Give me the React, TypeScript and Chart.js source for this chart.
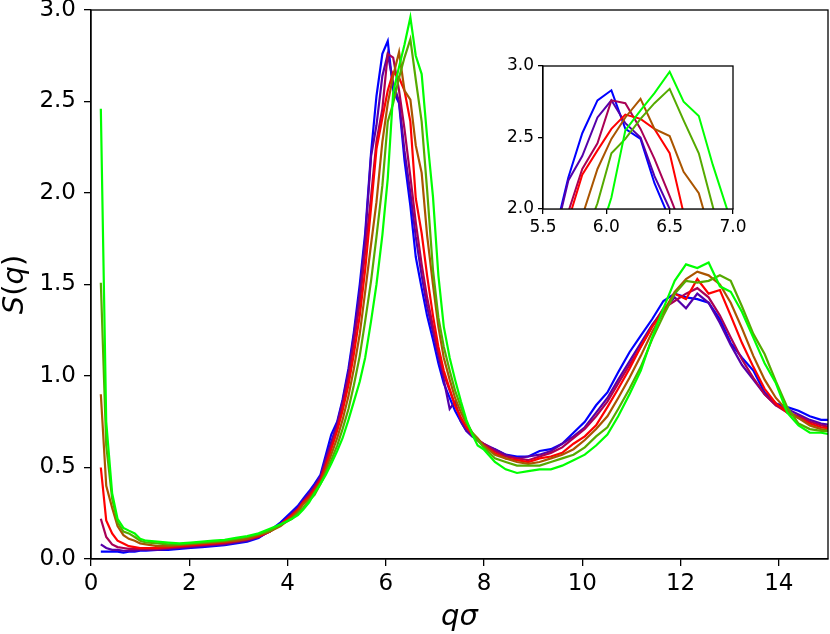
import React, { useEffect, useRef } from 'react';
import { Chart, registerables } from 'chart.js';

Chart.register(...registerables);

// q sigma grid
const q = [
  0.20, 0.31, 0.43, 0.54, 0.66, 0.77, 0.89, 1.00, 1.12,
  1.35, 1.57, 1.80, 2.03, 2.26, 2.49, 2.72, 2.95, 3.18, 3.41, 3.64, 3.86, 4.09,
  4.21, 4.32, 4.44,
  4.55, 4.67, 4.78, 4.89, 5.01, 5.12, 5.24, 5.35, 5.47, 5.58, 5.70, 5.81, 5.93, 6.04, 6.15, 6.27, 6.38, 6.50, 6.61, 6.73, 6.84, 6.96, 7.07, 7.18, 7.30, 7.41, 7.53, 7.64, 7.76, 7.87, 7.99,
  8.22, 8.44, 8.67, 8.90, 9.13, 9.36, 9.59, 9.82, 10.05, 10.28, 10.51, 10.73, 10.96, 11.19, 11.42, 11.65, 11.88, 12.11, 12.34, 12.57, 12.80, 13.02, 13.25, 13.48, 13.71, 13.94, 14.17, 14.40, 14.63, 14.86, 15.09,
];

const sBlue = [
  0.04, 0.04, 0.04, 0.04, 0.035, 0.04, 0.04, 0.045, 0.045,
  0.05, 0.05, 0.055, 0.06, 0.065, 0.07, 0.075, 0.085, 0.095, 0.115, 0.155, 0.20, 0.26,
  0.29, 0.33, 0.37,
  0.41, 0.46, 0.57, 0.68, 0.75, 0.87, 1.04, 1.24, 1.50, 1.78, 2.22, 2.53, 2.76, 2.83, 2.56, 2.49, 2.18, 1.93, 1.65, 1.48, 1.33, 1.20, 1.07, 0.96, 0.88, 0.81, 0.75, 0.70, 0.67, 0.65, 0.62,
  0.60, 0.57, 0.56, 0.56, 0.59, 0.60, 0.63, 0.69, 0.75, 0.84, 0.91, 1.02, 1.13, 1.22, 1.31, 1.41, 1.45, 1.43, 1.42, 1.40, 1.31, 1.18, 1.10, 1.03, 0.91, 0.85, 0.83, 0.81, 0.78, 0.76, 0.76,
];

const sPurple = [
  0.08, 0.06, 0.05, 0.05, 0.045, 0.045, 0.045, 0.05, 0.05,
  0.05, 0.055, 0.06, 0.065, 0.07, 0.075, 0.08, 0.09, 0.10, 0.12, 0.15, 0.19, 0.25,
  0.28, 0.32, 0.36,
  0.40, 0.45, 0.55, 0.64, 0.74, 0.86, 1.02, 1.22, 1.46, 1.75, 2.20, 2.37, 2.64, 2.76, 2.60, 2.50, 2.23, 2.00, 1.76, 1.55, 1.38, 1.24, 1.11, 0.98, 0.82, 0.86, 0.75, 0.70, 0.67, 0.65, 0.63,
  0.60, 0.57, 0.55, 0.56, 0.57, 0.59, 0.63, 0.67, 0.72, 0.80, 0.88, 0.98, 1.08, 1.18, 1.28, 1.36, 1.43, 1.37, 1.45, 1.40, 1.29, 1.17, 1.06, 0.98, 0.90, 0.84, 0.82, 0.79, 0.76, 0.74, 0.73,
];

const sMagenta = [
  0.22, 0.12, 0.08, 0.065, 0.06, 0.055, 0.055, 0.055, 0.055,
  0.055, 0.06, 0.065, 0.07, 0.075, 0.08, 0.085, 0.095, 0.105, 0.12, 0.15, 0.19, 0.24,
  0.27, 0.31, 0.35,
  0.39, 0.44, 0.53, 0.62, 0.72, 0.84, 0.99, 1.18, 1.40, 1.68, 1.98, 2.28, 2.46, 2.76, 2.74, 2.56, 2.35, 2.09, 1.84, 1.61, 1.43, 1.27, 1.13, 1.01, 0.92, 0.84, 0.77, 0.72, 0.68, 0.65, 0.63,
  0.59, 0.56, 0.55, 0.54, 0.56, 0.58, 0.61, 0.66, 0.71, 0.78, 0.86, 0.96, 1.06, 1.16, 1.27, 1.37, 1.41, 1.45, 1.48, 1.43, 1.33, 1.21, 1.09, 0.99, 0.90, 0.84, 0.80, 0.78, 0.75, 0.73, 0.72,
];

const sRed = [
  0.50, 0.21, 0.14, 0.10, 0.085, 0.07, 0.065, 0.06, 0.06,
  0.06, 0.065, 0.07, 0.075, 0.08, 0.085, 0.09, 0.10, 0.11, 0.125, 0.15, 0.19, 0.24,
  0.27, 0.31, 0.34,
  0.38, 0.43, 0.51, 0.60, 0.70, 0.81, 0.95, 1.12, 1.33, 1.58, 1.92, 2.24, 2.41, 2.56, 2.66, 2.63, 2.56, 2.39, 1.97, 1.78, 1.55, 1.33, 1.16, 1.03, 0.93, 0.84, 0.77, 0.72, 0.68, 0.65, 0.62,
  0.58, 0.55, 0.54, 0.53, 0.55, 0.56, 0.58, 0.63, 0.67, 0.73, 0.83, 0.93, 1.04, 1.16, 1.27, 1.35, 1.45, 1.42, 1.53, 1.45, 1.47, 1.33, 1.18, 1.05, 0.93, 0.85, 0.80, 0.77, 0.74, 0.72, 0.71,
];

const sBrown = [
  0.90, 0.40, 0.28, 0.18, 0.13, 0.11, 0.10, 0.085, 0.08,
  0.07, 0.07, 0.075, 0.08, 0.085, 0.09, 0.095, 0.10, 0.11, 0.13, 0.15, 0.18, 0.23,
  0.26, 0.30, 0.33,
  0.37, 0.42, 0.49, 0.57, 0.66, 0.76, 0.89, 1.04, 1.23, 1.46, 1.72, 1.95, 2.28, 2.49, 2.64, 2.77, 2.56, 2.51, 2.26, 2.11, 1.77, 1.50, 1.27, 1.10, 0.98, 0.88, 0.80, 0.74, 0.69, 0.66, 0.62,
  0.57, 0.55, 0.53, 0.52, 0.53, 0.55, 0.57, 0.60, 0.65, 0.71, 0.78, 0.88, 0.99, 1.11, 1.24, 1.35, 1.46, 1.53, 1.57, 1.55, 1.50, 1.40, 1.26, 1.11, 0.98, 0.88, 0.81, 0.77, 0.73, 0.71, 0.70,
];

const sOlive = [
  1.51, 0.62, 0.33, 0.20, 0.15, 0.14, 0.12, 0.10, 0.09,
  0.085, 0.08, 0.08, 0.085, 0.09, 0.095, 0.10, 0.11, 0.12, 0.135, 0.155, 0.185, 0.22,
  0.25, 0.28, 0.32,
  0.35, 0.41, 0.47, 0.54, 0.62, 0.71, 0.82, 0.95, 1.11, 1.30, 1.52, 1.76, 2.04, 2.39, 2.49, 2.63, 2.74, 2.84, 2.62, 2.39, 2.02, 1.58, 1.32, 1.16, 1.03, 0.92, 0.83, 0.75, 0.69, 0.65, 0.61,
  0.55, 0.53, 0.51, 0.51, 0.51, 0.53, 0.55, 0.57, 0.61, 0.67, 0.72, 0.82, 0.93, 1.05, 1.20, 1.33, 1.45, 1.52, 1.51, 1.52, 1.55, 1.52, 1.38, 1.23, 1.12, 0.97, 0.83, 0.74, 0.71, 0.70, 0.70,
];

const sGreen = [
  2.46, 0.75, 0.36, 0.22, 0.17, 0.155, 0.14, 0.11, 0.10,
  0.095, 0.09, 0.085, 0.09, 0.095, 0.10, 0.105, 0.115, 0.125, 0.14, 0.165, 0.19, 0.22,
  0.24, 0.27, 0.31,
  0.36, 0.41, 0.46, 0.52, 0.59, 0.66, 0.76, 0.86, 0.97, 1.10, 1.30, 1.50, 1.77, 2.08, 2.55, 2.69, 2.81, 2.96, 2.75, 2.65, 2.31, 1.98, 1.55, 1.27, 1.10, 0.98, 0.86, 0.76, 0.68, 0.62, 0.60,
  0.53, 0.49, 0.47, 0.48, 0.49, 0.49, 0.51, 0.54, 0.57, 0.62, 0.68, 0.78, 0.90, 1.03, 1.21, 1.37, 1.52, 1.61, 1.59, 1.62, 1.49, 1.46, 1.35, 1.21, 1.07, 0.96, 0.80, 0.73, 0.69, 0.69, 0.68,
];

const seriesValues = [sBlue, sPurple, sMagenta, sRed, sBrown, sOlive, sGreen];
const seriesColors = ['#0000ff', '#5500aa', '#aa0055', '#ff0000', '#aa5500', '#55aa00', '#00ff00'];

const xTicks = [0, 2, 4, 6, 8, 10, 12, 14];
const yTicks = [0, 0.5, 1.0, 1.5, 2.0, 2.5, 3.0];
const insetXTicks = [5.5, 6.0, 6.5, 7.0];
const insetYTicks = [2.0, 2.5, 3.0];

const FONT = 'DejaVu Sans';

function makeDatasets(width: number) {
  return seriesValues.map((s, i) => ({
    data: q.map((x, j) => ({ x, y: s[j] })),
    borderColor: seriesColors[i],
    backgroundColor: seriesColors[i],
    borderWidth: width,
    pointRadius: 0,
    fill: false,
    tension: 0,
    order: seriesValues.length - i,
  }));
}

const framePlugin = {
  id: 'frame',
  beforeDatasetsDraw(chart: any, _a: any, opts: any) {
    if (opts && opts.fill) {
      const { ctx, chartArea: a } = chart;
      ctx.save();
      ctx.fillStyle = '#ffffff';
      ctx.fillRect(a.left, a.top, a.right - a.left, a.bottom - a.top);
      ctx.restore();
    }
  },
  afterDraw(chart: any) {
    const { ctx, chartArea: a } = chart;
    ctx.save();
    ctx.strokeStyle = '#000000';
    ctx.lineWidth = 1.3;
    ctx.strokeRect(a.left, a.top, a.right - a.left, a.bottom - a.top);
    ctx.restore();
  },
};

const labelPlugin = {
  id: 'axisLabels',
  afterDraw(chart: any) {
    const { ctx, chartArea: a } = chart;
    ctx.save();
    ctx.fillStyle = '#000000';
    ctx.textBaseline = 'alphabetic';
    // x label: q sigma
    ctx.font = `italic 29px "${FONT}"`;
    ctx.textAlign = 'center';
    ctx.fillText('qσ', (a.left + a.right) / 2, 625);
    // y label: S(q)
    const parts: [string, boolean][] = [['S', true], ['(', false], ['q', true], [')', false]];
    const fontFor = (it: boolean) => `${it ? 'italic ' : ''}29px "${FONT}"`;
    let total = 0;
    const widths = parts.map(([t, it]) => {
      ctx.font = fontFor(it);
      const w = ctx.measureText(t).width;
      total += w;
      return w;
    });
    ctx.translate(23, (a.top + a.bottom) / 2);
    ctx.rotate(-Math.PI / 2);
    ctx.textAlign = 'left';
    let x = -total / 2;
    parts.forEach(([t, it], i) => {
      ctx.font = fontFor(it);
      ctx.fillText(t, x, 0);
      x += widths[i];
    });
    ctx.restore();
  },
};

function axisOptions(
  ticksArr: number[],
  min: number,
  max: number,
  fontSize: number,
  fmt: (v: number) => string,
  tickLength: number,
  padding: number,
  horizontal: boolean,
  size: number
) {
  return {
    type: 'linear' as const,
    min,
    max,
    afterBuildTicks: (s: any) => {
      s.ticks = ticksArr.map((v) => ({ value: v }));
    },
    afterFit: (s: any) => {
      if (horizontal) {
        s.height = size;
        s.paddingLeft = 0;
        s.paddingRight = 0;
      } else {
        s.width = size;
        s.paddingTop = 0;
        s.paddingBottom = 0;
      }
    },
    ticks: {
      font: { family: FONT, size: fontSize },
      color: '#000000',
      padding,
      maxRotation: 0,
      autoSkip: false,
      callback: (v: any) => fmt(Number(v)),
    },
    grid: {
      drawOnChartArea: false,
      drawTicks: true,
      tickLength,
      color: '#000000',
      lineWidth: 1.3,
    },
    border: { display: true, color: '#000000', width: 1.3 },
  };
}

export default function App() {
  const mainRef = useRef<HTMLCanvasElement | null>(null);
  const insetRef = useRef<HTMLCanvasElement | null>(null);

  useEffect(() => {
    if (!mainRef.current || !insetRef.current) return;
    const main = new Chart(mainRef.current, {
      type: 'line',
      data: { datasets: makeDatasets(2.2) as any },
      options: {
        responsive: false,
        animation: false,
        devicePixelRatio: 1,
        layout: { padding: { left: 0, top: 10, right: 2, bottom: 0 } },
        plugins: { legend: { display: false }, tooltip: { enabled: false } },
        scales: {
          x: axisOptions(xTicks, 0, 15, 23, (v) => String(v), 7, 4, true, 75) as any,
          y: axisOptions(yTicks, 0, 3, 23, (v) => v.toFixed(1), 7, 8, false, 91) as any,
        },
      },
      plugins: [framePlugin, labelPlugin],
    });
    const inset = new Chart(insetRef.current, {
      type: 'line',
      data: { datasets: makeDatasets(2) as any },
      options: {
        responsive: false,
        animation: false,
        devicePixelRatio: 1,
        layout: { padding: { left: 0, top: 16, right: 17, bottom: 0 } },
        plugins: { legend: { display: false }, tooltip: { enabled: false }, frame: { fill: true } } as any,
        scales: {
          x: axisOptions(insetXTicks, 5.5, 7.0, 17, (v) => v.toFixed(1), 5, 3, true, 41) as any,
          y: axisOptions(insetYTicks, 2.0, 3.0, 17, (v) => v.toFixed(1), 5, 4, false, 53) as any,
        },
      },
      plugins: [framePlugin],
    });
    return () => {
      main.destroy();
      inset.destroy();
    };
  }, []);

  return (
    <div style={{ position: 'absolute', left: 0, top: 0, width: 830, height: 634, background: '#ffffff' }}>
      <canvas ref={mainRef} width={830} height={634} style={{ position: 'absolute', left: 0, top: 0 }} />
      <canvas ref={insetRef} width={260} height={200} style={{ position: 'absolute', left: 490, top: 50 }} />
    </div>
  );
}
